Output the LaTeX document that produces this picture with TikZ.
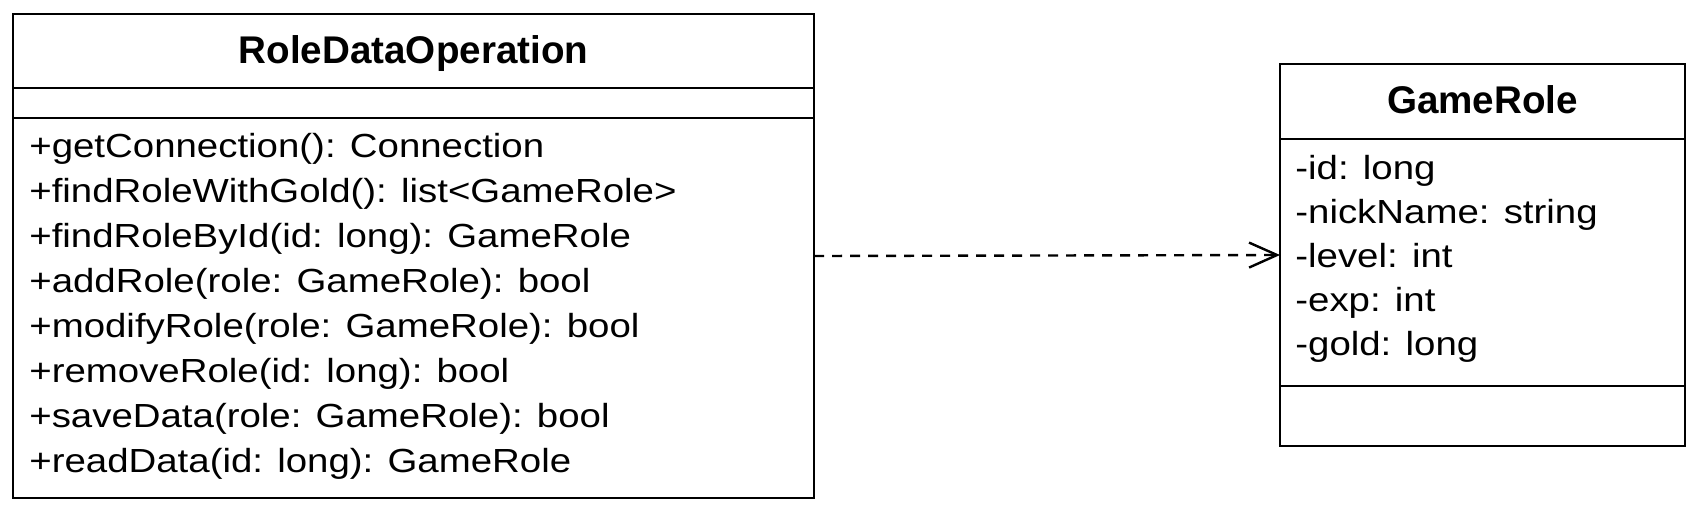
\documentclass[tikz,border=0pt]{standalone}
\usepackage{fontspec}
\setmainfont[FakeStretch=1.15]{Liberation Sans}
\newfontfamily\headfont{Liberation Sans}
\usetikzlibrary{arrows.meta}

\begin{document}
\begin{tikzpicture}[x=0.5pt,y=-0.5pt,line width=1.35pt,
  classbox/.style={draw,inner sep=0pt,outer sep=0pt,anchor=north west},
  member/.style={anchor=base west,inner sep=0pt,font=\fontsize{16.7}{19}\selectfont},
  classname/.style={anchor=base,inner sep=0pt,font=\headfont\bfseries\fontsize{19.3}{22}\selectfont},
  depend/.style={line width=1.2pt,dash pattern=on 5pt off 4pt,-{Straight Barb[length=14pt,width=12.5pt]}}]
\useasboundingbox (0,0) rectangle (1705,505);
\node[classbox,minimum width=400.5pt,minimum height=242pt](ops) at (13,14){};
\node[classbox,minimum width=202.5pt,minimum height=191pt](role) at (1280,64){};
\draw(13,88)--(814,88);
\draw(13,118)--(814,118);
\draw(1280,139)--(1685,139);
\draw(1280,386)--(1685,386);
\node[classname](opsname) at (413.5,63){RoleDataOperation};
\node[classname](rolename) at (1482.5,113){GameRole};
\foreach \txt [count=\i from 0] in {{+getConnection(): Connection},{+findRoleWithGold(): list<GameRole>},
  {+findRoleById(id: long): GameRole},{+addRole(role: GameRole): bool},{+modifyRole(role: GameRole): bool},
  {+removeRole(id: long): bool},{+saveData(role: GameRole): bool},{+readData(id: long): GameRole}}
  \node[member](m\i) at (28,{157+45.1*\i}){\txt};
\foreach \txt [count=\i from 0] in {{-id: long},{-nickName: string},{-level: int},{-exp: int},{-gold: long}}
  \node[member](a\i) at (1294,{179+44.2*\i}){\txt};
\draw[depend](ops.east)--(role.west);
\end{tikzpicture}
\end{document}
